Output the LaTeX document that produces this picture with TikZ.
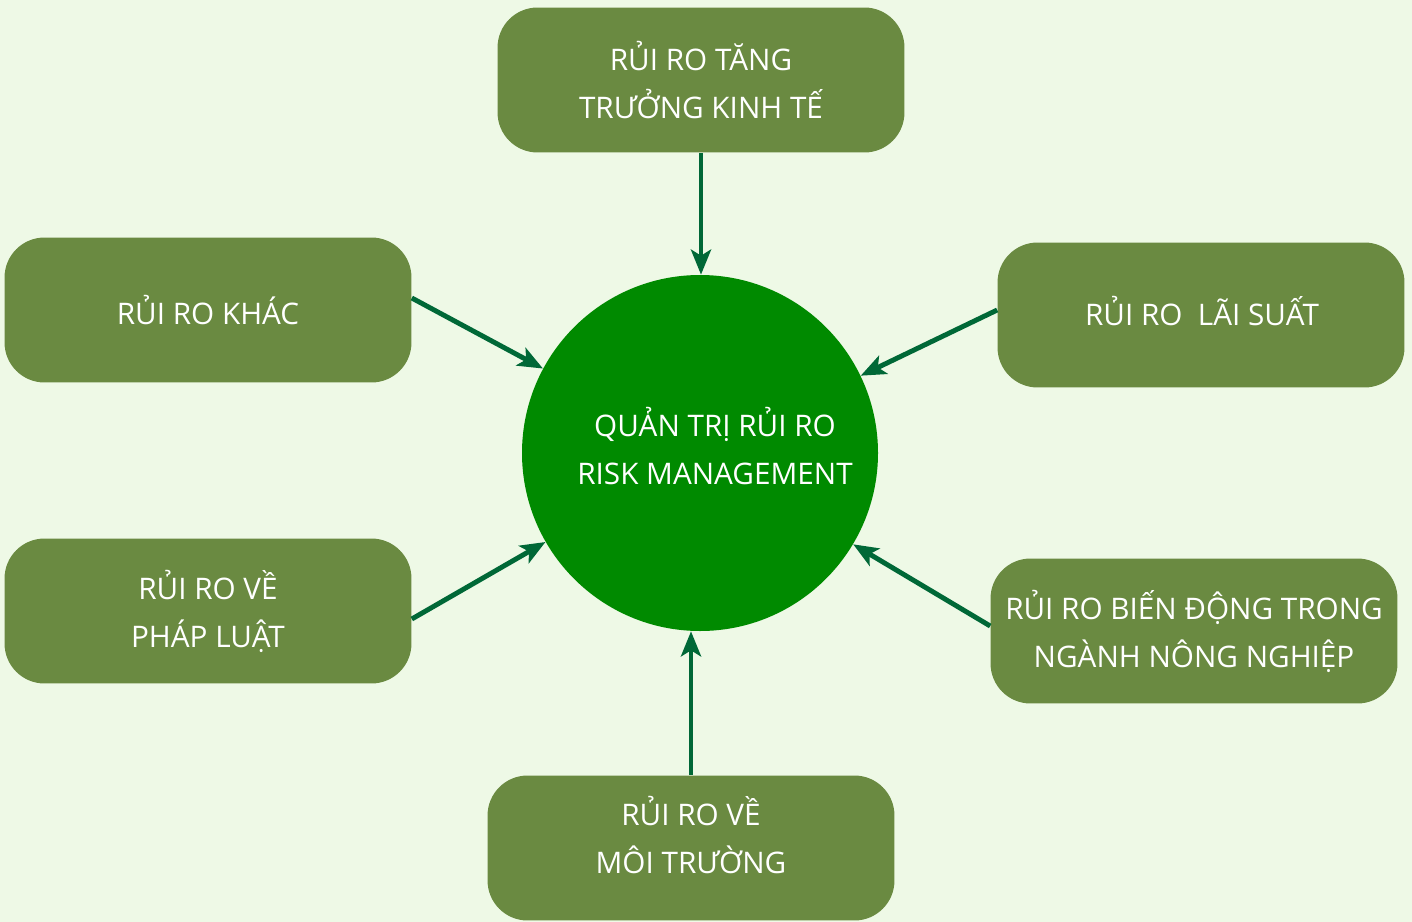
\documentclass[tikz,border=0pt]{standalone}
\usepackage{fontspec}
\setmainfont{Open Sans}
\usetikzlibrary{arrows.meta}
\definecolor{nen}{HTML}{EEF9E6}
\definecolor{olive}{HTML}{6A8A41}
\definecolor{xanh}{HTML}{008A00}
\definecolor{muiten}{HTML}{006837}
\tikzset{
  riskbox/.style={fill=olive,rounded corners=0.8cm,minimum width=8.14cm,minimum height=2.9cm,
    text=white,align=center,font=\fontsize{16.9}{27.3}\selectfont,inner sep=0pt},
  link/.style={muiten,line width=2.8pt,-{Stealth[length=0.5cm,width=0.4cm,inset=0.12cm]}}
}
\begin{document}
\begin{tikzpicture}[x=0.02cm,y=-0.02cm]
                \useasboundingbox[fill=nen] (0,0) rectangle (1412,922);
                \fill[xanh] (700,453) circle (178);
                \node (qt) at (700,453) [circle,minimum size=7.12cm,inner sep=0pt] {};
                \node[text=white,align=center,font=\fontsize{16.9}{27.3}\selectfont] (qttext) at (715,446) {QUẢN TRỊ RỦI RO\\RISK MANAGEMENT};
                \node[riskbox] (tangtruong) at (701,80) {RỦI RO TĂNG\\TRƯỞNG KINH TẾ};
                \node[riskbox] (khac) at (208,310) {RỦI RO KHÁC};
                \node[riskbox] (laisuat) at (1201,315) {};
                \node[text=white,font=\fontsize{16.9}{27.3}\selectfont] (laisuattext) at (1202,311) {RỦI RO\ \ LÃI SUẤT};
                \node[riskbox] (phapluat) at (208,611) {RỦI RO VỀ\\PHÁP LUẬT};
                \node[riskbox] (nongnghiep) at (1194,631) {RỦI RO BIẾN ĐỘNG TRONG\\NGÀNH NÔNG NGHIỆP};
                \node[riskbox] (moitruong) at (691,848) {};
                \node[text=white,align=center,font=\fontsize{16.9}{27.3}\selectfont] (moitruongtext) at (691,835) {RỦI RO VỀ\\MÔI TRƯỜNG};
                \draw[link] (tangtruong.south) -- (tangtruong.south |- qt.north);
                \draw[link] ([yshift=0.24cm]khac.east) -- (qt);
                \draw[link] ([yshift=0.1cm]laisuat.west) -- (qt);
                \draw[link] ([yshift=-0.16cm]phapluat.east) -- (qt);
                \draw[link] ([yshift=0.1cm]nongnghiep.west) -- (qt);
                \draw[link] (moitruong.north) -- (moitruong.north |- qt.south);
            \end{tikzpicture}
\end{document}
